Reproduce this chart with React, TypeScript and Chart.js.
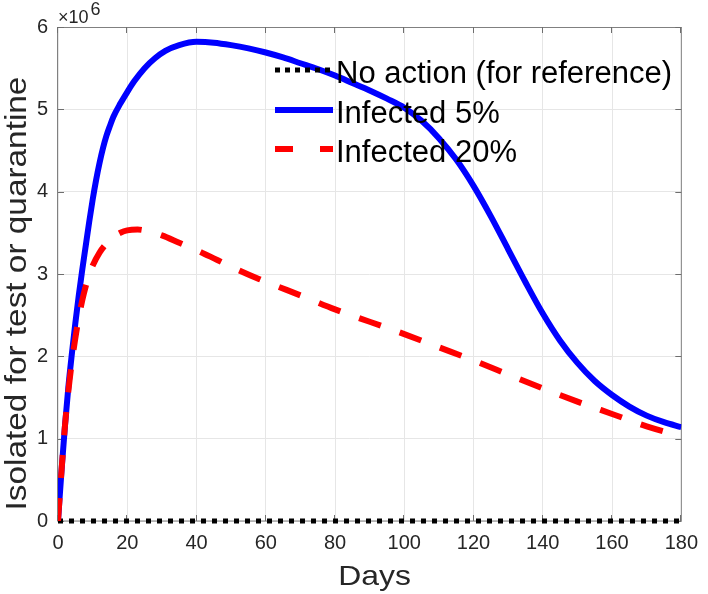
import React, { useEffect, useRef } from 'react';
import { Chart, registerables } from 'chart.js';

Chart.register(...registerables);

// ---- data (values in millions) ----
const noActionDays = [0, 180];
const noActionValues = [0, 0];

const infected5Days = [0, 1, 2, 3, 4, 5, 6, 7, 8, 9, 10, 11, 12, 13, 14, 15, 16, 18, 20, 22, 25, 28, 31, 35, 40, 45, 50, 55, 60, 65, 70, 75, 80, 85, 90, 95, 100, 105, 110, 115, 120, 125, 130, 135, 140, 145, 150, 155, 160, 165, 170, 175, 180];
const infected5Values = [0, 0.6, 1.15, 1.63, 2.03, 2.4, 2.74, 3.05, 3.34, 3.63, 3.9, 4.14, 4.35, 4.53, 4.68, 4.8, 4.91, 5.07, 5.21, 5.34, 5.5, 5.62, 5.71, 5.78, 5.82, 5.81, 5.78, 5.74, 5.69, 5.63, 5.56, 5.49, 5.41, 5.32, 5.23, 5.13, 5.02, 4.86, 4.65, 4.39, 4.07, 3.7, 3.3, 2.9, 2.52, 2.19, 1.92, 1.7, 1.53, 1.39, 1.28, 1.2, 1.14];

const infected20Days = [0, 1, 2, 3, 4, 5, 6, 7, 8, 9, 10, 12, 14, 16, 18, 20, 23, 26, 30, 35, 40, 46, 52, 58, 64, 70, 80, 90, 100, 110, 120, 130, 140, 150, 160, 170, 180];
const infected20Values = [0, 0.6, 1.15, 1.58, 1.93, 2.22, 2.47, 2.68, 2.85, 2.99, 3.1, 3.26, 3.37, 3.45, 3.5, 3.53, 3.54, 3.52, 3.47, 3.38, 3.29, 3.17, 3.05, 2.94, 2.84, 2.74, 2.57, 2.42, 2.27, 2.11, 1.95, 1.78, 1.61, 1.45, 1.3, 1.15, 1.03];

const seriesLabels = ['No action (for reference)', 'Infected 5%', 'Infected 20%'];
const xAxisTitle = 'Days';
const yAxisTitle = 'Isolated for test or quarantine';
const yExponentBase = '\u00d710';
const yExponent = '6';
const yScaleFactor = 1e6;

const FONT = "'Liberation Sans', Arial, Helvetica, sans-serif";

const toPoints = (days: number[], vals: number[]) =>
  days.map((d, i) => ({ x: d, y: vals[i] * yScaleFactor }));

const decoPlugin = {
  id: 'deco',
  beforeDatasetsDraw(chart: any) {
    const { ctx, chartArea: a, scales } = chart;
    ctx.save();
    ctx.strokeStyle = '#808080';
    ctx.lineWidth = 1;
    ctx.strokeRect(a.left - 0.5, a.top + 0.5, a.right - a.left + 0.5, a.bottom - a.top - 0.5);
    ctx.strokeStyle = '#6e6e6e';
    ctx.beginPath();
    const tl = 6;
    scales.x.ticks.forEach((t: any) => {
      const px = Math.round(scales.x.getPixelForValue(t.value)) - 0.5;
      ctx.moveTo(px, a.bottom);
      ctx.lineTo(px, a.bottom - tl);
      ctx.moveTo(px, a.top);
      ctx.lineTo(px, a.top + tl);
    });
    scales.y.ticks.forEach((t: any) => {
      const py = Math.round(scales.y.getPixelForValue(t.value)) + 0.5;
      ctx.moveTo(a.left, py);
      ctx.lineTo(a.left + tl, py);
      ctx.moveTo(a.right, py);
      ctx.lineTo(a.right - tl, py);
    });
    ctx.stroke();
    ctx.restore();
  },
  afterDraw(chart: any) {
    const { ctx } = chart;
    ctx.save();
    const baseY = [83, 123, 162];
    const sx0 = 275;
    const sx1 = 333;
    chart.data.datasets.forEach((ds: any, i: number) => {
      const sy = baseY[i] - 13;
      ctx.save();
      ctx.strokeStyle = ds.borderColor;
      ctx.lineWidth = ds.borderWidth;
      ctx.lineCap = 'butt';
      ctx.setLineDash(ds.legendDash || []);
      ctx.beginPath();
      ctx.moveTo(sx0, sy);
      ctx.lineTo(sx1, sy);
      ctx.stroke();
      ctx.restore();
      ctx.fillStyle = '#000000';
      ctx.font = `31px ${FONT}`;
      ctx.textAlign = 'left';
      ctx.textBaseline = 'alphabetic';
      ctx.fillText(ds.label, 336, baseY[i]);
    });
    ctx.fillStyle = '#262626';
    ctx.save();
    ctx.translate(374.5, 585);
    ctx.scale(1.14, 1);
    ctx.font = `28px ${FONT}`;
    ctx.textAlign = 'center';
    ctx.textBaseline = 'alphabetic';
    ctx.fillText(xAxisTitle, 0, 0);
    ctx.restore();
    ctx.save();
    ctx.translate(25.5, 293.5);
    ctx.rotate(-Math.PI / 2);
    ctx.scale(1.15, 1);
    ctx.font = `29px ${FONT}`;
    ctx.textAlign = 'center';
    ctx.textBaseline = 'alphabetic';
    ctx.fillText(yAxisTitle, 0, 0);
    ctx.restore();
    ctx.font = `18px ${FONT}`;
    ctx.textAlign = 'left';
    ctx.textBaseline = 'alphabetic';
    ctx.fillText(yExponentBase, 58, 23);
    const w = ctx.measureText(yExponentBase).width;
    ctx.fillText(yExponent, 58 + w + 2, 15);
    ctx.restore();
  },
};

export default function App() {
  const canvasRef = useRef<HTMLCanvasElement | null>(null);

  useEffect(() => {
    if (!canvasRef.current) return;
    const chart = new Chart(canvasRef.current, {
      type: 'line',
      data: {
        datasets: [
          {
            label: seriesLabels[0],
            data: toPoints(noActionDays, noActionValues),
            borderColor: '#000000',
            borderWidth: 5,
            borderDash: [5, 6],
            legendDash: [5, 5],
            pointRadius: 0,
            fill: false,
            clip: false,
            order: 2,
          } as any,
          {
            label: seriesLabels[1],
            data: toPoints(infected5Days, infected5Values),
            borderColor: '#0000ff',
            borderWidth: 6,
            pointRadius: 0,
            fill: false,
            cubicInterpolationMode: 'monotone',
            order: 1,
          } as any,
          {
            label: seriesLabels[2],
            data: toPoints(infected20Days, infected20Values),
            borderColor: '#ff0000',
            borderWidth: 6,
            borderDash: [23, 20],
            legendDash: [18, 27],
            pointRadius: 0,
            fill: false,
            cubicInterpolationMode: 'monotone',
            order: 0,
          } as any,
        ],
      },
      options: {
        animation: false,
        responsive: false,
        maintainAspectRatio: false,
        events: [],
        layout: { padding: { top: 27, right: 20, left: 0, bottom: 0 } },
        plugins: {
          legend: { display: false },
          tooltip: { enabled: false },
          title: { display: false },
        },
        scales: {
          x: {
            type: 'linear',
            min: 0,
            max: 180,
            afterFit: (s: any) => {
              s.height = 73;
            },
            grid: { color: '#e6e6e6', lineWidth: 1, drawTicks: false },
            border: { display: false },
            ticks: {
              stepSize: 20,
              autoSkip: false,
              maxRotation: 0,
              padding: 10,
              color: '#262626',
              font: { family: FONT, size: 20 },
            },
          },
          y: {
            type: 'linear',
            min: 0,
            max: 6 * yScaleFactor,
            afterFit: (s: any) => {
              s.width = 58;
            },
            grid: { color: '#e6e6e6', lineWidth: 1, drawTicks: false },
            border: { display: false },
            ticks: {
              stepSize: yScaleFactor,
              padding: 10,
              color: '#262626',
              font: { family: FONT, size: 20 },
              callback: (v: any) => String(Math.round(Number(v) / yScaleFactor)),
            },
          },
        },
      },
      plugins: [decoPlugin],
    });
    return () => chart.destroy();
  }, []);

  return (
    <div style={{ position: 'absolute', left: 0, top: 0, width: 708, height: 594, background: '#ffffff' }}>
      <canvas ref={canvasRef} width={708} height={594} style={{ display: 'block' }} />
    </div>
  );
}
